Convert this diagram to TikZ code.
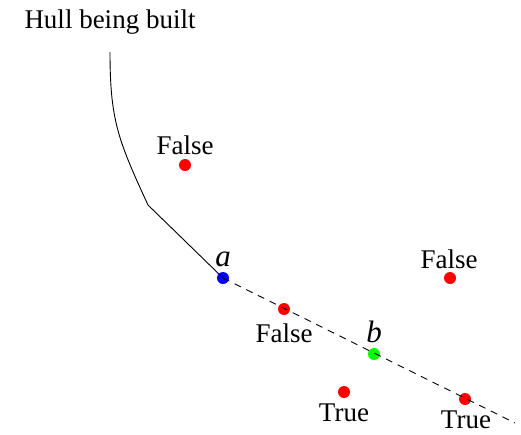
\documentclass[tikz,border=0pt]{standalone}
\usepackage{fontspec}
\setmainfont{Liberation Serif}
\begin{document}
\begin{tikzpicture}[x=1pt,y=-1pt,
  pt/.style={circle,fill=#1,inner sep=0pt,minimum size=12pt},
  lbl/.style={font=\fontsize{27}{29}\selectfont,inner sep=0pt},
  ilbl/.style={font=\fontsize{31}{33}\selectfont\itshape,inner sep=0pt}]
\useasboundingbox (0,0) rectangle (521,434);
\node[lbl] (title) at (110,22) {Hull being built};
\coordinate (h0) at (110,52);
\coordinate (h1) at (148,205);
\node[pt=blue] (a) at (223,278) {};
\node[pt=green] (b) at (374,354) {};
\node[pt=red] (f1) at (185,165) {};
\node[pt=red] (f2) at (284,309) {};
\node[pt=red] (f3) at (450,278) {};
\node[pt=red] (t1) at (344,392) {};
\node[pt=red] (t2) at (465,399) {};
\coordinate (end) at (515,423);
\draw[line width=0.9pt] (h0) .. controls (110,120) and (118,140) .. (h1) -- (a.center);
\draw[line width=0.9pt,dash pattern=on 7pt off 6pt] (a.center) -- (end);
\node[ilbl] at (223,259) {a};
\node[ilbl] at (374,332) {b};
\node[lbl] at (185,145) {False};
\node[lbl] at (284,333) {False};
\node[lbl] at (449,259) {False};
\node[lbl] at (344,413) {True};
\node[lbl] at (466,420) {True};
\end{tikzpicture}
\end{document}
